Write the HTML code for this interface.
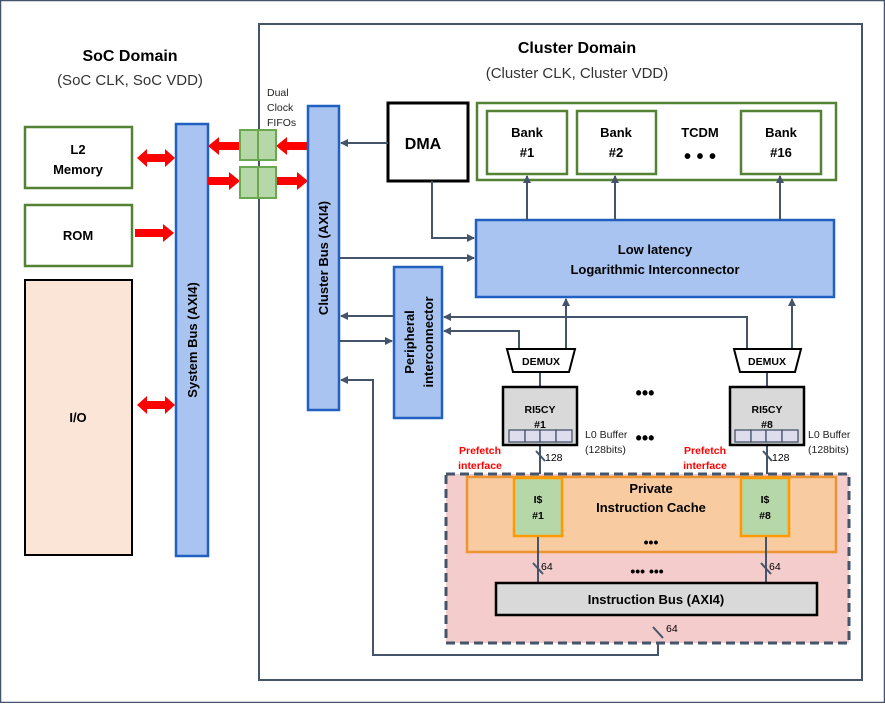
<!DOCTYPE html>
<html><head><meta charset="utf-8"><style>
body{margin:0;background:#fff}
text{font-family:"Liberation Sans",sans-serif}
</style></head><body>
<svg width="885" height="703" viewBox="0 0 885 703" xmlns="http://www.w3.org/2000/svg">
<defs>
<marker id="a" markerWidth="8" markerHeight="8" refX="7" refY="4" orient="auto" markerUnits="userSpaceOnUse"><path d="M0,0L8,4L0,8z" fill="#44546a"/></marker>
</defs>
<rect x="0.5" y="0.5" width="884" height="702" fill="#fff" stroke="#44546a" stroke-width="1.5"/>
<rect x="259" y="24" width="603" height="656" fill="none" stroke="#44546a" stroke-width="2"/>
<text x="130" y="61" font-size="16" font-weight="bold" text-anchor="middle">SoC Domain</text>
<text x="130" y="85" font-size="15" text-anchor="middle" fill="#333">(SoC CLK, SoC VDD)</text>
<text x="577" y="53" font-size="16" font-weight="bold" text-anchor="middle">Cluster Domain</text>
<text x="577" y="78" font-size="15" text-anchor="middle" fill="#333">(Cluster CLK, Cluster VDD)</text>
<rect x="25" y="127" width="107" height="61" fill="#fff" stroke="#548235" stroke-width="2.5"/>
<text x="78" y="154" font-size="13" font-weight="bold" text-anchor="middle">L2</text>
<text x="78" y="174" font-size="13" font-weight="bold" text-anchor="middle">Memory</text>
<rect x="25" y="205" width="107" height="61" fill="#fff" stroke="#548235" stroke-width="2.5"/>
<text x="78" y="240" font-size="13" font-weight="bold" text-anchor="middle">ROM</text>
<rect x="25" y="280" width="107" height="275" fill="#fbe5d6" stroke="#000" stroke-width="2"/>
<text x="78" y="422" font-size="13" font-weight="bold" text-anchor="middle">I/O</text>
<rect x="176" y="124" width="32" height="432" fill="#a9c4f0" stroke="#2060c0" stroke-width="2.5"/>
<text transform="translate(197,340) rotate(-90)" font-size="13" font-weight="bold" text-anchor="middle">System Bus (AXI4)</text>
<g fill="#f00">
<path d="M137,158l10,-9v5h18v-5l10,9l-10,9v-5h-18v5z"/>
<path d="M135,229h28v-5l11,9l-11,9v-5h-28z"/>
<path d="M137,405l10,-9v5h18v-5l10,9l-10,9v-5h-18v5z"/>
<path d="M208,146l11,-9v5h21v8h-21v5z"/>
<path d="M276,146l11,-9v5h21v8h-21v5z"/>
<path d="M208,177h21v-5l11,9l-11,9v-5h-21z"/>
<path d="M276,177h21v-5l11,9l-11,9v-5h-21z"/>
</g>
<rect x="240" y="130" width="36" height="30" fill="#b6d7a8" stroke="#6aa84f" stroke-width="2"/>
<line x1="258" y1="130" x2="258" y2="160" stroke="#6aa84f" stroke-width="2"/>
<rect x="240" y="167" width="36" height="31" fill="#b6d7a8" stroke="#6aa84f" stroke-width="2"/>
<line x1="258" y1="167" x2="258" y2="198" stroke="#6aa84f" stroke-width="2"/>
<text x="267" y="96" font-size="10.5" fill="#222">Dual</text>
<text x="267" y="111" font-size="10.5" fill="#222">Clock</text>
<text x="267" y="126" font-size="10.5" fill="#222">FIFOs</text>
<rect x="308" y="106" width="31" height="304" fill="#a9c4f0" stroke="#2060c0" stroke-width="2.5"/>
<text transform="translate(328,258) rotate(-90)" font-size="13" font-weight="bold" text-anchor="middle">Cluster Bus (AXI4)</text>
<rect x="388" y="103" width="80" height="78" fill="#fff" stroke="#000" stroke-width="3"/>
<text x="423" y="149" font-size="16" font-weight="bold" text-anchor="middle">DMA</text>
<rect x="477" y="103" width="359" height="77" fill="#fff" stroke="#548235" stroke-width="2.5"/>
<rect x="487" y="111" width="80" height="63" fill="#fff" stroke="#548235" stroke-width="2.5"/>
<rect x="577" y="111" width="79" height="63" fill="#fff" stroke="#548235" stroke-width="2.5"/>
<rect x="741" y="111" width="80" height="63" fill="#fff" stroke="#548235" stroke-width="2.5"/>
<g font-size="13" font-weight="bold" text-anchor="middle">
<text x="527" y="137">Bank</text><text x="527" y="157">#1</text>
<text x="616" y="137">Bank</text><text x="616" y="157">#2</text>
<text x="781" y="137">Bank</text><text x="781" y="157">#16</text>
<text x="700" y="137">TCDM</text>
</g>
<text x="700" y="163" font-size="20" font-weight="bold" text-anchor="middle">• • •</text>
<rect x="476" y="220" width="358" height="77" fill="#a9c4f0" stroke="#2060c0" stroke-width="2.5"/>
<text x="655" y="254" font-size="13" font-weight="bold" text-anchor="middle">Low latency</text>
<text x="655" y="274" font-size="13" font-weight="bold" text-anchor="middle">Logarithmic Interconnector</text>
<rect x="394" y="267" width="48" height="151" fill="#a9c4f0" stroke="#2060c0" stroke-width="2.5"/>
<text transform="translate(414,342) rotate(-90)" font-size="13" font-weight="bold" text-anchor="middle">Peripheral</text>
<text transform="translate(433,342) rotate(-90)" font-size="13" font-weight="bold" text-anchor="middle">interconnector</text>
<g stroke="#44546a" stroke-width="2" fill="none" marker-end="url(#a)">
<line x1="388" y1="143" x2="341" y2="143"/>
<path d="M432,181V238H474"/>
<line x1="339" y1="258" x2="474" y2="258"/>
<line x1="394" y1="316" x2="341" y2="316"/>
<line x1="339" y1="341" x2="392" y2="341"/>
<line x1="527" y1="220" x2="527" y2="176"/>
<line x1="615" y1="220" x2="615" y2="176"/>
<line x1="780" y1="220" x2="780" y2="176"/>
<path d="M519,348V331H444"/>
<path d="M747,348V317H444"/>
<line x1="566" y1="348" x2="566" y2="299"/>
<line x1="792" y1="348" x2="792" y2="299"/>
<path d="M658,615V655H373V380H341"/>
</g>
<g stroke="#44546a" stroke-width="2">
<line x1="540" y1="372" x2="540" y2="387"/>
<line x1="767" y1="372" x2="767" y2="387"/>
<line x1="540" y1="445" x2="540" y2="477"/>
<line x1="767" y1="445" x2="767" y2="477"/>
<line x1="536" y1="451" x2="545" y2="461"/>
<line x1="763" y1="451" x2="772" y2="461"/>
</g>
<text x="545" y="461" font-size="10.5">128</text>
<text x="772" y="461" font-size="10.5">128</text>
<path d="M507,349H575L569,372H513Z" fill="#fff" stroke="#000" stroke-width="2"/>
<text x="541" y="365" font-size="10.5" font-weight="bold" text-anchor="middle">DEMUX</text>
<path d="M734,349H801L795,372H740Z" fill="#fff" stroke="#000" stroke-width="2"/>
<text x="767" y="365" font-size="10.5" font-weight="bold" text-anchor="middle">DEMUX</text>
<rect x="503" y="387" width="74" height="58" fill="#d9d9d9" stroke="#000" stroke-width="2.5"/>
<text x="540" y="413" font-size="10.5" font-weight="bold" text-anchor="middle">RI5CY</text>
<text x="540" y="428" font-size="10.5" font-weight="bold" text-anchor="middle">#1</text>
<g fill="#dde" stroke="#44546a" stroke-width="1.3"><rect x="509" y="430" width="16" height="12"/><rect x="525" y="430" width="15" height="12"/><rect x="540" y="430" width="16" height="12"/><rect x="556" y="430" width="16" height="12"/></g>
<rect x="730" y="387" width="74" height="58" fill="#d9d9d9" stroke="#000" stroke-width="2.5"/>
<text x="767" y="413" font-size="10.5" font-weight="bold" text-anchor="middle">RI5CY</text>
<text x="767" y="428" font-size="10.5" font-weight="bold" text-anchor="middle">#8</text>
<g fill="#dde" stroke="#44546a" stroke-width="1.3"><rect x="735" y="430" width="16" height="12"/><rect x="751" y="430" width="15" height="12"/><rect x="766" y="430" width="16" height="12"/><rect x="782" y="430" width="16" height="12"/></g>
<text x="645" y="399" font-size="18" font-weight="bold" text-anchor="middle">•••</text>
<text x="645" y="444" font-size="18" font-weight="bold" text-anchor="middle">•••</text>
<g font-size="10.5" fill="#222"><text x="585" y="438">L0 Buffer</text><text x="585" y="453">(128bits)</text><text x="808" y="438">L0 Buffer</text><text x="808" y="453">(128bits)</text></g>
<g font-size="10.5" font-weight="bold" fill="#f00" text-anchor="middle"><text x="480" y="454">Prefetch</text><text x="480" y="469">interface</text><text x="705" y="454">Prefetch</text><text x="705" y="469">interface</text></g>
<rect x="446" y="474" width="403" height="169" fill="#f4cccc" stroke="#44546a" stroke-width="3" stroke-dasharray="9,5"/>
<rect x="467" y="477" width="369" height="75" fill="#f8cba0" stroke="#ed9330" stroke-width="2.5"/>
<rect x="514" y="478" width="48" height="58" fill="#b6d7a8" stroke="#f90" stroke-width="2.5"/>
<rect x="741" y="478" width="48" height="58" fill="#b6d7a8" stroke="#f90" stroke-width="2.5"/>
<g font-size="10.5" font-weight="bold" text-anchor="middle"><text x="538" y="503">I$</text><text x="538" y="519">#1</text><text x="765" y="503">I$</text><text x="765" y="519">#8</text></g>
<text x="651" y="493" font-size="13" font-weight="bold" text-anchor="middle">Private</text>
<text x="651" y="512" font-size="13" font-weight="bold" text-anchor="middle">Instruction Cache</text>
<text x="651" y="547" font-size="14" font-weight="bold" text-anchor="middle">•••</text>
<text x="647" y="576" font-size="14" font-weight="bold" text-anchor="middle">•••  •••</text>
<g stroke="#44546a" stroke-width="2">
<line x1="538" y1="537" x2="538" y2="583"/><line x1="766" y1="537" x2="766" y2="583"/>
<line x1="533" y1="563" x2="543" y2="574"/><line x1="761" y1="563" x2="771" y2="574"/>
<line x1="653" y1="627" x2="663" y2="638"/>
</g>
<g font-size="10.5"><text x="541" y="570">64</text><text x="769" y="570">64</text><text x="666" y="632">64</text></g>
<rect x="496" y="583" width="321" height="32" fill="#d9d9d9" stroke="#000" stroke-width="2.5"/>
<text x="656" y="604" font-size="13" font-weight="bold" text-anchor="middle">Instruction Bus (AXI4)</text>
</svg>
</body></html>
